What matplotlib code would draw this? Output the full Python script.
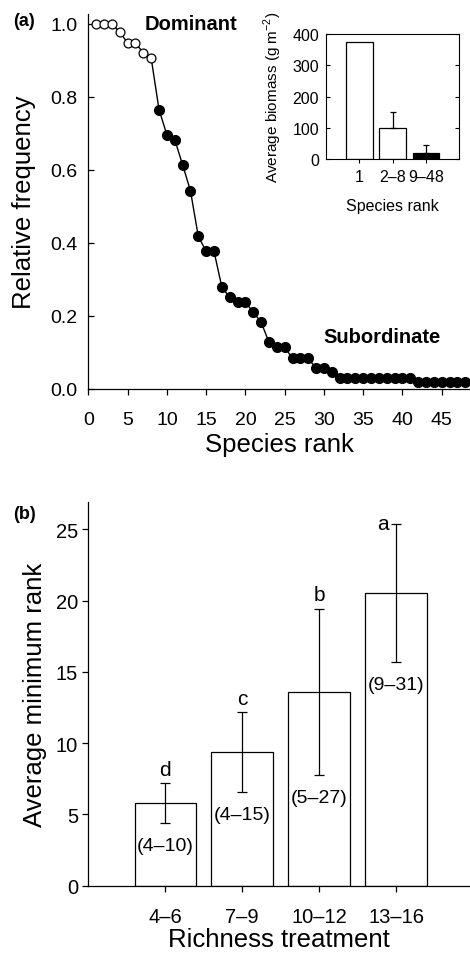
import numpy as np
from matplotlib import pyplot as plt

plt.rcParams['font.family'] = ['Liberation Sans', 'DejaVu Sans']

# Panel (a): relative frequency by species rank
rank = np.arange(1, 49)
rel_freq = [1.0, 1.0, 1.0, 0.977, 0.948, 0.948, 0.92, 0.906,
            0.765, 0.696, 0.683, 0.614, 0.543, 0.418, 0.377, 0.377,
            0.279, 0.251, 0.238, 0.238, 0.21, 0.183, 0.128, 0.114,
            0.114, 0.084, 0.084, 0.084, 0.057, 0.057, 0.046, 0.029,
            0.029, 0.029, 0.029, 0.029, 0.029, 0.029, 0.029, 0.029,
            0.029, 0.018, 0.018, 0.018, 0.018, 0.018, 0.018, 0.018]
n_dominant = 8

# Inset: average biomass by rank group
inset_groups = ['1', '2\u20138', '9\u201348']
inset_biomass = [373, 101, 21]
inset_err = [0, 49, 26]
inset_colors = ['white', 'white', 'black']

# Panel (b): average minimum rank by richness treatment
richness = ['4\u20136', '7\u20139', '10\u201312', '13\u201316']
min_rank = [5.8, 9.4, 13.6, 20.56]
min_rank_err = [1.4, 2.8, 5.85, 4.85]
sig_letters = ['d', 'c', 'b', 'a']
rank_ranges = ['(4\u201310)', '(4\u201315)', '(5\u201327)', '(9\u201331)']


def main():
    fig = plt.figure(figsize=(4.7, 9.54), dpi=100)

    # ---- panel (a)
    ax = fig.add_axes([0.188, 0.5912, 0.812, 0.3931])
    ax.plot(rank, rel_freq, color='black', lw=1.0, zorder=2, clip_on=False)
    ax.plot(rank[:n_dominant], rel_freq[:n_dominant], 'o', ms=6.4,
            mfc='white', mec='black', mew=0.9, zorder=3, clip_on=False)
    ax.plot(rank[n_dominant:], rel_freq[n_dominant:], 'o', ms=7.0,
            mfc='black', mec='black', zorder=3, clip_on=False)
    ax.set_xlim(0, 48.6)
    ax.set_ylim(0, 1.027)
    ax.set_xticks(np.arange(0, 46, 5))
    ax.set_yticks(np.arange(0, 1.01, 0.2))
    ax.set_yticklabels([f'{v:.1f}' for v in np.arange(0, 1.01, 0.2)])
    ax.spines['top'].set_visible(False)
    ax.spines['right'].set_visible(False)
    ax.tick_params(axis='y', direction='in', length=4.5, width=0.9, labelsize=14, pad=8)
    ax.tick_params(axis='x', direction='out', length=4, width=0.9, labelsize=14, pad=12)
    for s in ax.spines.values():
        s.set_linewidth(0.9)
    ax.set_xlabel('Species rank', fontsize=18.5, labelpad=3)
    ax.set_ylabel('Relative frequency', fontsize=18.5, labelpad=10)
    ax.text(7.2, 1.0, 'Dominant', fontsize=14.5, fontweight='bold', ha='left', va='center')
    ax.text(29.9, 0.145, 'Subordinate', fontsize=14.5, fontweight='bold', ha='left', va='center')
    fig.text(0.027, 0.977, '(a)', fontsize=13, fontweight='bold', ha='left', va='center')

    # ---- inset
    ins = fig.add_axes([0.6936, 0.8318, 0.2836, 0.1316])
    xpos = np.arange(1, len(inset_groups) + 1)
    ins.bar(xpos, inset_biomass, width=0.8, color=inset_colors, edgecolor='black', lw=0.9)
    ins.errorbar(xpos[1:], inset_biomass[1:], yerr=[[0, 0], inset_err[1:]], fmt='none',
                 ecolor='black', elinewidth=0.9, capsize=2, capthick=0.9)
    ins.set_xlim(0, 4)
    ins.set_ylim(0, 400)
    ins.set_xticks(xpos)
    ins.set_xticklabels(inset_groups)
    ins.set_yticks(np.arange(0, 401, 100))
    ins.tick_params(axis='y', direction='in', left=True, right=True, length=3, width=0.8,
                    labelsize=11.5, pad=5)
    ins.tick_params(axis='x', direction='out', length=3, width=0.8, labelsize=11.5, pad=4)
    for s in ins.spines.values():
        s.set_linewidth(0.8)
    ins.set_xlabel('Species rank', fontsize=11.5, labelpad=10)
    ins.set_ylabel('Average biomass (g m$^{\\mathregular{-2}}$)', fontsize=11, labelpad=6)

    # ---- panel (b)
    bx = fig.add_axes([0.188, 0.0705, 0.812, 0.4019])
    cpos = np.arange(1, len(richness) + 1)
    bx.bar(cpos, min_rank, width=0.8, color='white', edgecolor='black', lw=0.9)
    bx.errorbar(cpos, min_rank, yerr=min_rank_err, fmt='none', ecolor='black',
                elinewidth=0.9, capsize=3.6, capthick=0.9)
    for i, (m, e) in enumerate(zip(min_rank, min_rank_err)):
        if sig_letters[i] == 'a':
            bx.annotate(sig_letters[i], (cpos[i], m + e), xytext=(-5, 0), textcoords='offset points',
                        ha='right', va='center', fontsize=15)
        else:
            bx.annotate(sig_letters[i], (cpos[i], m + e), xytext=(0, 3), textcoords='offset points',
                        ha='center', va='bottom', fontsize=15)
        bx.annotate(rank_ranges[i], (cpos[i], m - e), xytext=(0, -10), textcoords='offset points',
                    ha='center', va='top', fontsize=14)
    bx.set_xlim(0, 4.96)
    bx.set_ylim(0, 26.9)
    bx.set_xticks(cpos)
    bx.set_xticklabels(richness)
    bx.set_yticks(np.arange(0, 26, 5))
    bx.spines['top'].set_visible(False)
    bx.spines['right'].set_visible(False)
    for s in bx.spines.values():
        s.set_linewidth(0.9)
    bx.tick_params(direction='out', length=4, width=0.9, labelsize=14.5)
    bx.tick_params(axis='x', pad=11)
    bx.set_xlabel('Richness treatment', fontsize=18.5, labelpad=1)
    bx.set_ylabel('Average minimum rank', fontsize=18.5, labelpad=6)
    fig.text(0.027, 0.461, '(b)', fontsize=13, fontweight='bold', ha='left', va='center')

    fig.savefig('out.png', dpi=100)


if __name__ == '__main__':
    main()
